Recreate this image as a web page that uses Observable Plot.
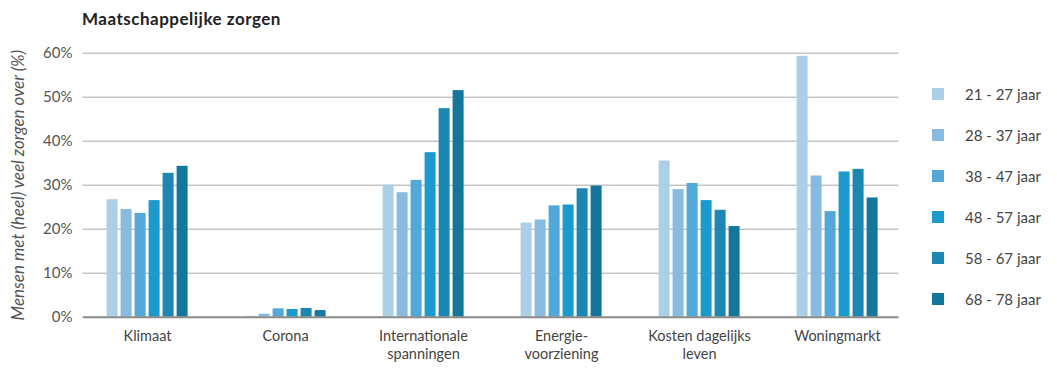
<!DOCTYPE html>
<html><head><meta charset="utf-8">
<script src="https://cdn.jsdelivr.net/npm/d3@7"></script>
<script src="https://cdn.jsdelivr.net/npm/@observablehq/plot@0.6"></script>
<style>
body{margin:0;background:#fff;}
#wrap{position:relative;width:1057px;height:374px;overflow:hidden;}
#title{height:20px;padding:10px 0 0 82px;font:bold 17px Lato, sans-serif;letter-spacing:0.5px;color:#222;line-height:18px;}
#legend{position:absolute;left:932px;top:74px;}
.lg-swatch{height:40px;}
.lg-swatch > svg{margin-right:21px !important;}
[aria-label="y-axis label"], [aria-label="y-axis label"] text{font-style:italic;font-size:17px;}
</style></head>
<body>
<div id="wrap">
  <div id="title">Maatschappelijke zorgen</div>
  <div id="chart"></div>
  <div id="legend"></div>
</div>
<script>
const categories = ["Klimaat", "Corona", "Internationale spanningen", "Energievoorziening", "Kosten dagelijks leven", "Woningmarkt"];
const categoryLabels = ["Klimaat", "Corona", "Internationale\nspanningen", "Energie-\nvoorziening", "Kosten dagelijks\nleven", "Woningmarkt"];
const ages = ["21 - 27 jaar", "28 - 37 jaar", "38 - 47 jaar", "48 - 57 jaar", "58 - 67 jaar", "68 - 78 jaar"];
const colors = ["#abcfe6", "#88bbdf", "#52a8d8", "#1c9acd", "#1c87b3", "#14769a"];
const age21 = [26.7, 0.2, 30.0, 21.4, 35.5, 59.3];
const age28 = [24.5, 0.7, 28.3, 22.1, 29.0, 32.1];
const age38 = [23.6, 1.9, 31.1, 25.3, 30.4, 24.0];
const age48 = [26.5, 1.75, 37.4, 25.5, 26.5, 33.0];
const age58 = [32.7, 2.0, 47.4, 29.2, 24.3, 33.6];
const age68 = [34.3, 1.5, 51.5, 29.8, 20.6, 27.1];
const yTicks = [0, 10, 20, 30, 40, 50, 60];
const yLabel = "Mensen met (heel) veel zorgen over (%)";

const series = [age21, age28, age38, age48, age58, age68];
const rows = categories.flatMap((c, i) => ages.map((a, j) => ({cat: c, age: a, value: series[j][i]})));
const first = categories[0], last = categories[categories.length - 1];
const grid = categories.flatMap(c => yTicks.filter(t => t > 0).map(t => ({cat: c, t})));
const base = categories.map(c => ({cat: c, t: 0}));
const gridStyle = {fx: "cat", y: "t", stroke: "#a8a8a8", strokeWidth: 1};
const baseStyle = {fx: "cat", y: "t", stroke: "#8a8a8a", strokeWidth: 2};

const chart = Plot.plot({
  width: 1057, height: 344,
  marginLeft: 77.4, marginRight: 150.1, marginTop: 22.7, marginBottom: 57.3,
  style: {fontFamily: "Lato, sans-serif", fontSize: "15px", color: "#555", background: "transparent"},
  fx: {domain: categories, padding: 0, label: null},
  x: {domain: ages, paddingInner: 0.23, paddingOuter: 1.82, axis: null},
  y: {domain: [0, 60], label: yLabel},
  color: {domain: ages, range: colors},
  marks: [
    Plot.ruleY(grid.filter(d => d.cat !== first && d.cat !== last), gridStyle),
    Plot.ruleY(grid.filter(d => d.cat === first), {...gridStyle, insetLeft: 4.6}),
    Plot.ruleY(grid.filter(d => d.cat === last), {...gridStyle, insetRight: 7.6}),
    Plot.barY(rows, {fx: "cat", x: "age", y: "value", fill: "age"}),
    Plot.ruleY(base.filter(d => d.cat !== first && d.cat !== last), baseStyle),
    Plot.ruleY(base.filter(d => d.cat === first), {...baseStyle, insetLeft: 4.6}),
    Plot.ruleY(base.filter(d => d.cat === last), {...baseStyle, insetRight: 7.6}),
    Plot.axisY({ticks: yTicks, tickFormat: d => d + "%", tickSize: 0, tickPadding: 6, label: yLabel, labelAnchor: "center", labelArrow: "none", labelOffset: 67, fill: "#555"}),
    Plot.axisFx({anchor: "bottom", tickSize: 0, tickPadding: 10, label: null, tickFormat: c => categoryLabels[categories.indexOf(c)], fontSize: 14.5, lineHeight: 1.3, fill: "#444"})
  ]
});
document.getElementById("chart").appendChild(chart);
const lg = Plot.legend({color: {domain: ages, range: colors}, columns: 1, swatchSize: 12, className: "lg", style: {fontFamily: "Lato, sans-serif", fontSize: "15px", color: "#444"}});
document.getElementById("legend").appendChild(lg);
</script>
</body></html>
